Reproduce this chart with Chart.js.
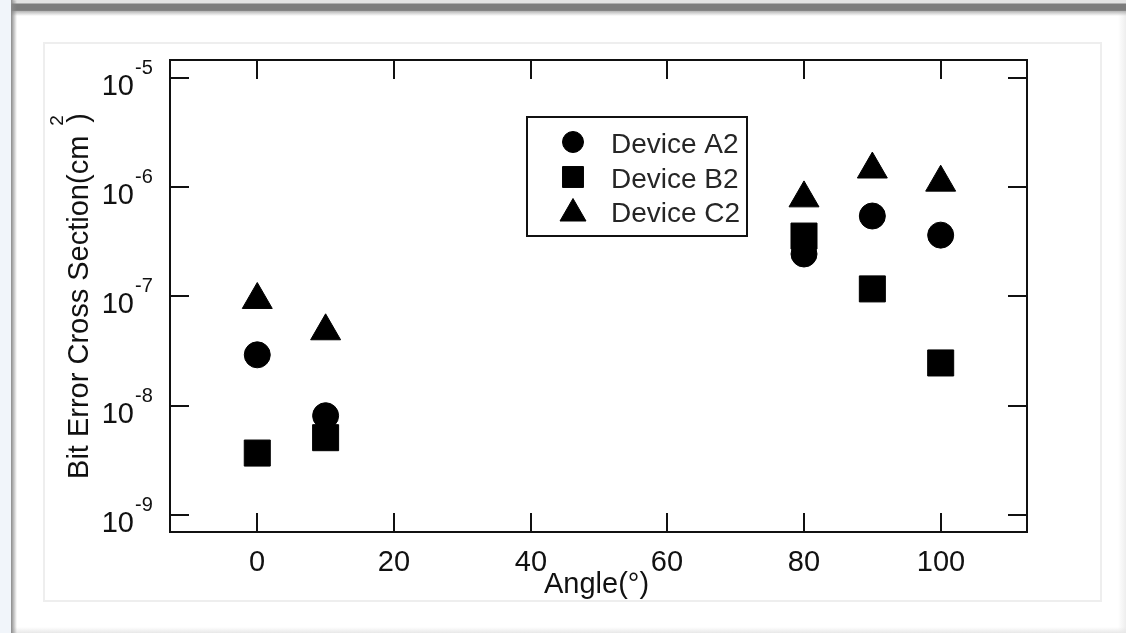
<!DOCTYPE html>
<html>
<head>
<meta charset="utf-8">
<title>Bit Error Cross Section vs Angle</title>
<script src="https://cdn.jsdelivr.net/npm/chart.js@4.4.1/dist/chart.umd.min.js"></script>
<style>
  html, body { margin: 0; padding: 0; }
  body { width: 1126px; height: 633px; background: #fff; position: relative; overflow: hidden; }
  .side { position: absolute; left: 0; top: 0; width: 11px; height: 633px; background: #f1f5fa; }
  .shadowL { position: absolute; left: 11px; top: 0; width: 6px; height: 633px;
             background: linear-gradient(to right, #8a8a8a, rgba(255,255,255,0)); }
  .topbar { position: absolute; left: 11px; top: 0; right: 0; height: 11px;
            background: linear-gradient(#e2e2e2 0, #e2e2e2 3px, #7c7c7c 4px, #7c7c7c 10px, #8c8c8c 11px);
            border-top-left-radius: 6px; }
  .topshade { position: absolute; left: 11px; top: 11px; right: 0; height: 5px;
              background: linear-gradient(#b4b4b4, rgba(255,255,255,0)); }
  .rightedge { position: absolute; right: 0; top: 0; width: 8px; height: 633px;
               background: linear-gradient(to right, rgba(255,255,255,0), #eeeeee); }
  .bottomedge { position: absolute; left: 11px; right: 0; bottom: 0; height: 6px;
                background: linear-gradient(rgba(255,255,255,0), #e8e8e8); }
  .panel { position: absolute; left: 43px; top: 42px; width: 1055px; height: 556px;
           border: 2px solid #eeeeee; background: #fff; }
  #chart { position: absolute; left: 0; top: 0; }
</style>
</head>
<body>
<div class="side"></div>
<div class="rightedge"></div>
<div class="bottomedge"></div>
<div class="topbar"></div>
<div class="topshade"></div>
<div class="shadowL"></div>
<div class="panel"></div>
<canvas id="chart" width="1126" height="633"></canvas>
<script>
// Measured cross sections (cm^2) per tilt angle (degrees)
const angles   = [0, 10, 80, 90, 100];
const deviceA2 = [2.92e-8, 8.1e-9, 2.44e-7, 5.43e-7, 3.63e-7];
const deviceB2 = [3.69e-9, 5.1e-9, 3.56e-7, 1.17e-7, 2.46e-8];
const deviceC2 = [9.3e-8, 4.81e-8, 7.9e-7, 1.45e-6, 1.10e-6];
const seriesNames = ['Device A2', 'Device B2', 'Device C2'];

// Axis ticks
const xTicks = [0, 20, 40, 60, 80, 100];
const yTickExponents = [-9, -8, -7, -6, -5];

const xTitle = 'Angle(°)';
const yTitleMain = 'Bit Error Cross Section(cm';
const yTitleSup = '2';
const yTitleEnd = ')';

const FONT = '"Liberation Sans", Arial, Helvetica, sans-serif';
const INK = '#111';

function toPoints(values) {
  return angles.map((a, i) => ({ x: a, y: values[i] }));
}

function line(ctx, x1, y1, x2, y2) {
  ctx.beginPath();
  ctx.moveTo(x1, y1);
  ctx.lineTo(x2, y2);
  ctx.stroke();
}

// Frame, inward ticks on all four sides, labels, titles and the boxed legend
const decorations = {
  id: 'decorations',
  afterDraw(chart) {
    const { ctx, chartArea: a, scales: { x, y } } = chart;
    ctx.save();
    ctx.strokeStyle = INK;
    ctx.lineWidth = 2;
    ctx.strokeRect(a.left, a.top, a.right - a.left, a.bottom - a.top);

    const tickLen = 19;
    ctx.fillStyle = INK;
    ctx.textBaseline = 'alphabetic';

    xTicks.forEach(v => {
      const px = Math.round(x.getPixelForValue(v));
      line(ctx, px, a.bottom, px, a.bottom - tickLen);
      line(ctx, px, a.top, px, a.top + tickLen);
      ctx.font = '29px ' + FONT;
      ctx.textAlign = 'center';
      ctx.fillText(String(v), px, a.bottom + 39);
    });

    yTickExponents.forEach(e => {
      const py = Math.round(y.getPixelForValue(Math.pow(10, e)));
      line(ctx, a.left, py, a.left + tickLen, py);
      line(ctx, a.right, py, a.right - tickLen, py);
      ctx.font = '29px ' + FONT;
      ctx.textAlign = 'right';
      ctx.fillText('10', a.left - 36, py + 17);
      ctx.font = '20px ' + FONT;
      ctx.textAlign = 'left';
      ctx.fillText(String(e), a.left - 35, py - 4);
    });

    // x title
    ctx.font = '29px ' + FONT;
    ctx.textAlign = 'center';
    ctx.fillText(xTitle, (a.left + a.right) / 2 - 2, a.bottom + 61);

    // y title, rotated, with superscript
    ctx.save();
    const cy = (a.top + a.bottom) / 2;
    ctx.translate(88, cy);
    ctx.rotate(-Math.PI / 2);
    ctx.textAlign = 'left';
    ctx.font = '29px ' + FONT;
    const w1 = ctx.measureText(yTitleMain).width;
    const w3 = ctx.measureText(yTitleEnd).width;
    const total = w1 + 13 + w3;
    const start = -total / 2;
    ctx.fillText(yTitleMain, start, 0);
    ctx.fillText(yTitleEnd, start + w1 + 13, 0);
    ctx.font = '19px ' + FONT;
    ctx.fillText(yTitleSup, start + w1 + 10, -25);
    ctx.restore();

    // legend
    const lx = 527, ly = 117, lw = 220, lh = 119;
    ctx.lineWidth = 2;
    ctx.strokeStyle = INK;
    ctx.strokeRect(lx, ly, lw, lh);
    const rows = [
      { marker: 142, text: 153, radius: 10.5 },
      { marker: 177, text: 187.5, radius: 14.8 },
      { marker: 213.5, text: 222, radius: 15 }
    ];
    chart.data.datasets.forEach((ds, i) => {
      const r = rows[i];
      ctx.fillStyle = '#000';
      ctx.strokeStyle = '#000';
      ctx.lineWidth = 1;
      Chart.helpers.drawPoint(ctx, {
        pointStyle: ds.pointStyle, radius: r.radius, rotation: 0, borderWidth: 1
      }, 573, r.marker);
      ctx.fillStyle = '#262626';
      ctx.font = '28px ' + FONT;
      ctx.textAlign = 'left';
      ctx.fillText(seriesNames[i], 611, r.text);
    });
    ctx.restore();
  }
};

const pointBase = {
  backgroundColor: '#000',
  borderColor: '#000',
  borderWidth: 1,
  showLine: false
};

new Chart(document.getElementById('chart'), {
  type: 'scatter',
  data: {
    datasets: [
      Object.assign({ label: seriesNames[0], data: toPoints(deviceA2), pointStyle: 'circle', pointRadius: 13 }, pointBase),
      Object.assign({ label: seriesNames[1], data: toPoints(deviceB2), pointStyle: 'rect', pointRadius: 18.4 }, pointBase),
      Object.assign({ label: seriesNames[2], data: toPoints(deviceC2), pointStyle: 'triangle', pointRadius: 17.3 }, pointBase)
    ]
  },
  options: {
    responsive: false,
    animation: false,
    events: [],
    clip: false,
    layout: { padding: { left: 170, top: 60, right: 99, bottom: 101 } },
    plugins: { legend: { display: false }, tooltip: { enabled: false } },
    scales: {
      x: {
        type: 'linear',
        display: false,
        min: -12.77,
        max: 112.63
      },
      y: {
        type: 'logarithmic',
        display: false,
        min: Math.pow(10, -9.1451),
        max: Math.pow(10, -4.8385)
      }
    }
  },
  plugins: [decorations]
});
</script>
</body>
</html>
